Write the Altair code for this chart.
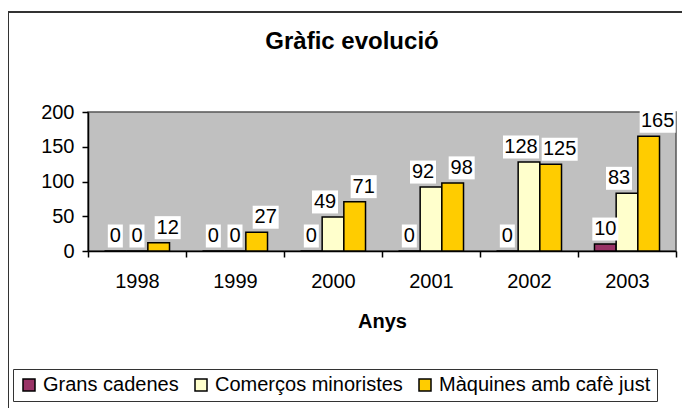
import altair as alt
import pandas as pd

# ---- data ----
years = ["1998", "1999", "2000", "2001", "2002", "2003"]
series = ["Grans cadenes", "Comerços minoristes", "Màquines amb cafè just"]
grans = [0, 0, 0, 0, 0, 10]
comercos = [0, 0, 49, 92, 128, 83]
maquines = [12, 27, 71, 98, 125, 165]
colors = ["#993366", "#FFFFCC", "#FFCC00"]
title_text = "Gràfic evolució"

FONT = "Liberation Sans"

# label styling: box half-widths by number of digits, horizontal nudge per series
half_w = {1: 7.5, 2: 13, 3: 18}
nudge_nonzero = [0, -8, 9]


def nudge_for(si, v):
    return nudge_nonzero[si] if v != 0 else 0


rows = []
for si, (name, vals) in enumerate(zip(series, [grans, comercos, maquines])):
    for y, v in zip(years, vals):
        dx = nudge_for(si, v)
        rows.append({
            "year": y, "series": name, "value": v,
            "boxkey": f"d{len(str(v))}x{dx}",
            "nkey": f"x{dx}",
        })
df = pd.DataFrame(rows)

all_dx = sorted(set([0] + nudge_nonzero))
box_keys, box_paths = [], []
for n, hw in half_w.items():
    for dx in all_dx:
        box_keys.append(f"d{n}x{dx}")
        box_paths.append(f"M{dx - hw},-11.5H{dx + hw}V11.5H{dx - hw}Z")

x_enc = alt.X(
    "year:N",
    sort=years,
    scale=alt.Scale(paddingInner=0, paddingOuter=0),
    axis=alt.Axis(
        title="Anys",
        titleFont=FONT,
        titleFontSize=20,
        titleFontWeight="bold",
        titleColor="black",
        titleBaseline="alphabetic",
        titleY=76,
        labelFont=FONT,
        labelFontSize=20,
        labelColor="black",
        labelAngle=0,
        labelPadding=14,
        tickBand="extent",
        tickSize=6,
        tickColor="black",
        tickWidth=1.5,
        domainColor="black",
        domainWidth=1.5,
    ),
)
xo_enc = alt.XOffset(
    "series:N",
    sort=series,
    scale=alt.Scale(domain=series, paddingInner=0, paddingOuter=0.76),
)
y_enc = alt.Y(
    "value:Q",
    scale=alt.Scale(domain=[0, 200], nice=False),
    axis=alt.Axis(
        title=None,
        values=[0, 50, 100, 150, 200],
        grid=False,
        labelFont=FONT,
        labelFontSize=20,
        labelColor="black",
        labelPadding=8,
        tickSize=6,
        tickColor="black",
        tickWidth=1.5,
        domainColor="black",
        domainWidth=1.5,
    ),
)

one = pd.DataFrame({"t": [title_text]})

frame = alt.Chart(one).mark_rect(
    fill="white", fillOpacity=0, stroke="#333333", strokeWidth=2
).encode(
    x=alt.value(-80), x2=alt.value(700), y=alt.value(-100), y2=alt.value(400)
)

title = alt.Chart(one).mark_text(
    font=FONT, fontSize=24, fontWeight="bold", color="black",
    align="center", baseline="alphabetic"
).encode(
    x=alt.value(264), y=alt.value(-63), text="t:N"
)

bars = alt.Chart(df).mark_bar(stroke="black", strokeWidth=1.5).encode(
    x=x_enc,
    xOffset=xo_enc,
    y=y_enc,
    color=alt.Color(
        "series:N",
        sort=series,
        scale=alt.Scale(domain=series, range=colors),
        legend=alt.Legend(
            title=None,
            orient="none",
            legendX=-75,
            legendY=257,
            direction="horizontal",
            symbolType="square",
            symbolSize=144,
            symbolStrokeColor="black",
            symbolStrokeWidth=1.5,
            symbolOpacity=1,
            labelFont=FONT,
            labelFontSize=20,
            labelColor="black",
            labelOffset=4,
            labelLimit=400,
            columnPadding=12,
            padding=6,
            strokeColor="#333333",
            fillColor="white",
        ),
    ),
)

boxes = alt.Chart(df).mark_point(
    filled=True, color="white", opacity=1, size=4, yOffset=-15
).encode(
    x=x_enc,
    xOffset=xo_enc,
    y=y_enc,
    shape=alt.Shape(
        "boxkey:N",
        scale=alt.Scale(domain=box_keys, range=box_paths),
        legend=None,
    ),
)

text_layers = []
for dx in all_dx:
    text_layers.append(
        alt.Chart(df).transform_filter(alt.datum.nkey == f"x{dx}").mark_text(
            font=FONT, fontSize=20, color="black", baseline="middle",
            align="center", yOffset=-15, dx=dx
        ).encode(
            x=x_enc,
            xOffset=xo_enc,
            y=y_enc,
            text=alt.Text("value:Q", format="d"),
        )
    )

chart = alt.layer(frame, bars, boxes, *text_layers, title).properties(
    width=588,
    height=139,
    autosize="none",
    padding={"left": 80, "top": 104, "right": 6, "bottom": 157},
    background="white",
).configure_view(
    fill="#C0C0C0", stroke="#555555", strokeWidth=1.5
)

chart.save("out.html", embed_options={"renderer": "svg", "actions": False})
